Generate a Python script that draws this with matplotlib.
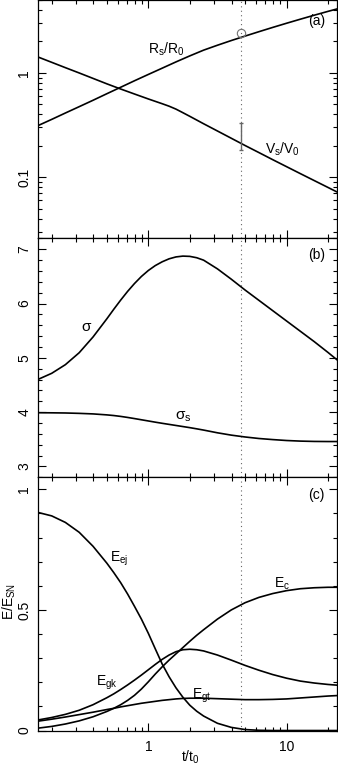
import matplotlib
matplotlib.use('Agg')
import matplotlib.pyplot as plt
from matplotlib.ticker import LogLocator, MultipleLocator, NullFormatter, FixedLocator, FixedFormatter

plt.rcParams['font.family'] = ['Liberation Sans', 'DejaVu Sans']
plt.rcParams['mathtext.fontset'] = 'custom'
plt.rcParams['mathtext.rm'] = 'Liberation Sans'
plt.rcParams['mathtext.it'] = 'Liberation Sans'
plt.rcParams['mathtext.sf'] = 'Liberation Sans'

# ---------------- data ----------------
# panel (a)
t_R = [0.16, 0.2, 0.251, 0.316, 0.398, 0.501, 0.631, 0.794, 1.0, 1.259, 1.585, 1.995,
       2.512, 3.162, 3.981, 5.012, 6.31, 7.943, 10.0, 12.59, 15.85, 19.95, 23.3]
R_s = [0.313, 0.358, 0.412, 0.474, 0.546, 0.631, 0.728, 0.840, 0.966, 1.109, 1.274, 1.455,
       1.652, 1.841, 2.042, 2.254, 2.483, 2.729, 2.992, 3.273, 3.573, 3.890, 4.111]
t_V = [0.16, 0.2, 0.251, 0.316, 0.398, 0.501, 0.631, 0.794, 1.0, 1.259, 1.413, 1.585, 1.778,
       1.995, 2.512, 3.162, 3.981, 5.012, 6.31, 7.943, 10.0, 12.59, 15.85, 19.95, 23.3]
V_s = [1.416, 1.262, 1.122, 0.998, 0.885, 0.785, 0.700, 0.627, 0.562, 0.506, 0.479, 0.449, 0.415,
       0.383, 0.325, 0.277, 0.236, 0.201, 0.172, 0.147, 0.126, 0.108, 0.0927, 0.0796, 0.0718]
t_obs = [4.67]
R_obs = [2.42]
V_obs = [0.25]
V_err_lo = [0.183]
V_err_hi = [0.332]

# panels (b) and (c) share one time grid
t_grid = [0.16, 0.2, 0.251, 0.316, 0.398, 0.501, 0.562, 0.631, 0.708, 0.794, 0.891, 1.0,
          1.122, 1.259, 1.413, 1.585, 1.778, 1.995, 2.239, 2.512, 3.162, 3.981, 5.012,
          6.31, 7.943, 10.0, 12.59, 15.85, 19.95, 23.3]

# panel (b)
sigma = [4.606, 4.716, 4.875, 5.095, 5.385, 5.72, 5.895, 6.065, 6.225, 6.37, 6.50, 6.61,
         6.70, 6.77, 6.825, 6.86, 6.875, 6.87, 6.845, 6.80, 6.64, 6.45, 6.25,
         6.06, 5.87, 5.68, 5.49, 5.30, 5.10, 4.96]
sigma_s = [3.99, 3.988, 3.985, 3.978, 3.968, 3.95, 3.938, 3.922, 3.903, 3.882, 3.86, 3.838,
           3.816, 3.795, 3.775, 3.755, 3.735, 3.715, 3.693, 3.67, 3.62, 3.577, 3.543,
           3.515, 3.495, 3.478, 3.467, 3.461, 3.459, 3.459]

# panel (c)
E_ej = [0.904, 0.890, 0.863, 0.822, 0.764, 0.694, 0.655, 0.613, 0.566, 0.515, 0.462, 0.403,
        0.339, 0.276, 0.223, 0.177, 0.138, 0.105, 0.080, 0.060, 0.030, 0.013, 0.004,
        0.001, 0.0, 0.0, 0.0, 0.0, 0.0, 0.0]
E_c = [0.010, 0.017, 0.027, 0.040, 0.057, 0.079, 0.092, 0.107, 0.125, 0.146, 0.172, 0.202,
       0.234, 0.264, 0.292, 0.318, 0.344, 0.370, 0.395, 0.418, 0.462, 0.500, 0.530,
       0.552, 0.568, 0.580, 0.588, 0.592, 0.594, 0.594]
E_gk = [0.044, 0.054, 0.067, 0.084, 0.107, 0.136, 0.152, 0.170, 0.189, 0.209, 0.230, 0.252,
        0.274, 0.295, 0.313, 0.327, 0.335, 0.337, 0.335, 0.330, 0.313, 0.292, 0.270,
        0.250, 0.232, 0.217, 0.205, 0.197, 0.191, 0.188]
E_gt = [0.039, 0.047, 0.056, 0.066, 0.076, 0.087, 0.092, 0.098, 0.103, 0.108, 0.113, 0.117,
        0.121, 0.125, 0.128, 0.131, 0.133, 0.134, 0.134, 0.134, 0.132, 0.130, 0.128,
        0.128, 0.129, 0.131, 0.135, 0.139, 0.143, 0.145]

t_mark = 4.67
xlim = (0.16, 23.3)

# ---------------- figure ----------------
fig = plt.figure(figsize=(3.38, 7.68), dpi=100)
L, W = 0.1134, 0.8846
ax_a = fig.add_axes([L, 0.6895, W, 0.3105])
ax_b = fig.add_axes([L, 0.3785, W, 0.3110])
ax_c = fig.add_axes([L, 0.0488, W, 0.3297])

lw = 1.2
for ax in (ax_a, ax_b, ax_c):
    ax.set_xscale('log')
    ax.set_xlim(*xlim)
    ax.axvline(t_mark, color='0.4', ls=(0, (1, 3)), lw=0.8)
    ax.tick_params(which='both', direction='in', top=True, right=True, colors='k', labelsize=10)
    ax.tick_params(which='major', length=6, width=0.8)
    ax.tick_params(which='minor', length=3, width=0.8)
    ax.tick_params(axis='y', which='major', pad=5)
    ax.xaxis.set_major_locator(FixedLocator([1, 10]))
    ax.xaxis.set_minor_locator(LogLocator(base=10, subs=range(2, 10), numticks=20))
    ax.xaxis.set_minor_formatter(NullFormatter())
    for s in ax.spines.values():
        s.set_linewidth(0.9)

# panel (a)
ax_a.set_yscale('log')
ax_a.set_ylim(0.0258, 5.0)
ax_a.plot(t_R, R_s, 'k-', lw=lw)
ax_a.plot(t_V, V_s, 'k-', lw=lw)
ax_a.plot(t_obs, R_obs, 'o', mfc='none', mec='0.45', ms=6, mew=0.8)
ax_a.errorbar(t_obs, V_obs,
              yerr=[[V_obs[0] - V_err_lo[0]], [V_err_hi[0] - V_obs[0]]],
              fmt='none', ecolor='0.4', elinewidth=1.0, capsize=1.6, capthick=1.0)
ax_a.yaxis.set_major_locator(FixedLocator([0.1, 1]))
ax_a.yaxis.set_major_formatter(FixedFormatter(['0.1', '1']))
ax_a.yaxis.set_minor_locator(LogLocator(base=10, subs=range(2, 10), numticks=20))
ax_a.yaxis.set_minor_formatter(NullFormatter())
ax_a.set_xticklabels([])
ax_a.text(0.902, 0.912, '(a)', transform=ax_a.transAxes, fontsize=10, ha='left', va='center')
ax_a.text(1.344, 1.53, r'R$_{\rm s}$/R$_0$', fontsize=10, ha='center', va='baseline')
ax_a.text(9.3, 0.168, r'V$_{\rm s}$/V$_0$', fontsize=10, ha='center', va='baseline')

# panel (b)
ax_b.set_ylim(2.8, 7.2)
ax_b.plot(t_grid, sigma, 'k-', lw=lw)
ax_b.plot(t_grid, sigma_s, 'k-', lw=lw)
ax_b.yaxis.set_major_locator(MultipleLocator(1))
ax_b.yaxis.set_minor_locator(MultipleLocator(0.2))
ax_b.set_xticklabels([])
ax_b.text(0.902, 0.931, '(b)', transform=ax_b.transAxes, fontsize=10, ha='left', va='center')
ax_b.text(0.36, 5.50, r'$\sigma$', fontsize=11, ha='center')
ax_b.text(1.8, 3.87, r'$\sigma_{\rm s}$', fontsize=11, ha='center')

# panel (c)
ax_c.set_ylim(0, 1.05)
ax_c.plot(t_grid, E_ej, 'k-', lw=lw)
ax_c.plot(t_grid, E_c, 'k-', lw=lw)
ax_c.plot(t_grid, E_gk, 'k-', lw=lw)
ax_c.plot(t_grid, E_gt, 'k-', lw=lw)
ax_c.yaxis.set_major_locator(FixedLocator([0, 0.5, 1]))
ax_c.yaxis.set_major_formatter(FixedFormatter(['0', '0.5', '1']))
ax_c.yaxis.set_minor_locator(MultipleLocator(0.1))
ax_c.xaxis.set_major_formatter(FixedFormatter(['1', '10']))
ax_c.tick_params(axis='x', which='major', pad=7)
ax_c.text(0.902, 0.930, '(c)', transform=ax_c.transAxes, fontsize=10, ha='left', va='center')
ax_c.text(0.62, 0.70, r'E$_{\rm ej}$', fontsize=10, ha='center')
ax_c.text(9.3, 0.593, r'E$_{\rm c}$', fontsize=10, ha='center')
ax_c.text(0.50, 0.185, r'E$_{\rm gk}$', fontsize=10, ha='center')
ax_c.text(2.45, 0.133, r'E$_{\rm gt}$', fontsize=10, ha='center')

fig.text(190 / 338, 1 - 762 / 768, r't/t$_0$', fontsize=10, ha='center', va='baseline')
fig.text(9 / 338, 1 - 601 / 768, r'E/E$_{\rm SN}$', fontsize=10, ha='center', va='center',
         rotation=90)

for ax in (ax_a, ax_b, ax_c):
    for lab in ax.get_yticklabels():
        lab.set_rotation(90)
        lab.set_va('center')

fig.savefig('out.png', dpi=100)
